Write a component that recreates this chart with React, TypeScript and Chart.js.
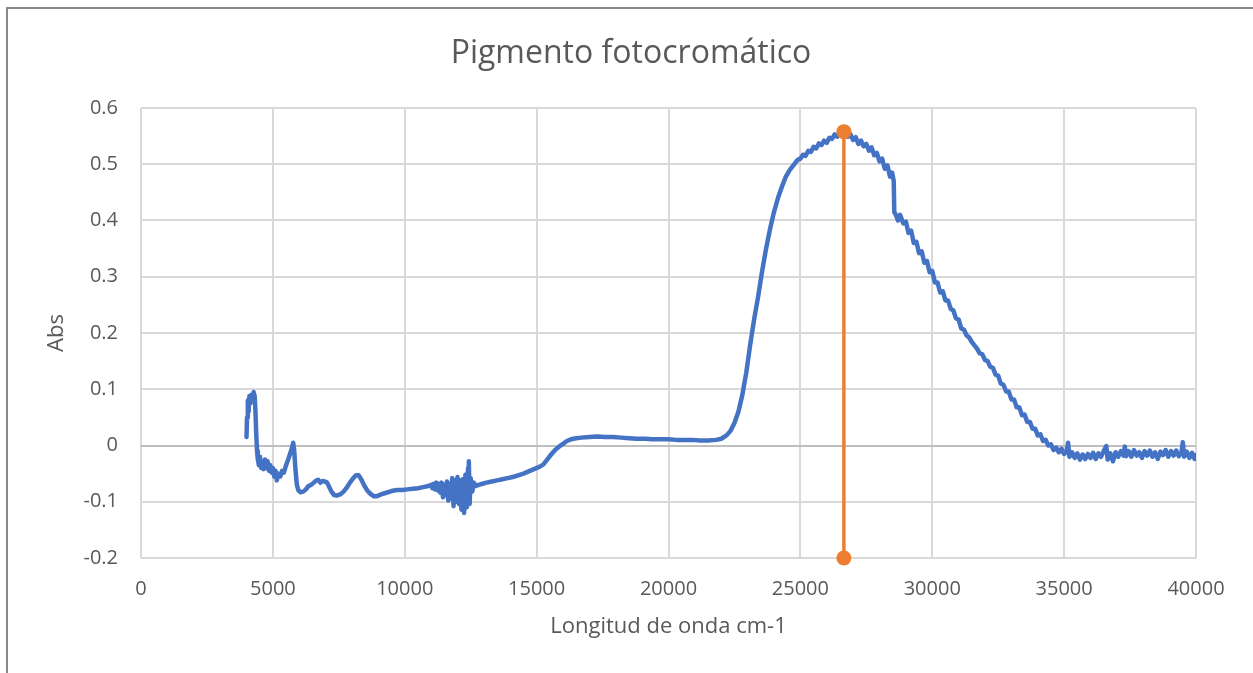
import React, { useEffect, useRef } from "react";
import { Chart, registerables } from "chart.js";

Chart.register(...registerables);

const chartTitle = "Pigmento fotocromático";
const xAxisTitle = "Longitud de onda cm-1";
const yAxisTitle = "Abs";

const xTickValues = [0, 5000, 10000, 15000, 20000, 25000, 30000, 35000, 40000];
const xTickLabels = ["0", "5000", "10000", "15000", "20000", "25000", "30000", "35000", "40000"];
const yTickValues = [-0.2, -0.1, 0, 0.1, 0.2, 0.3, 0.4, 0.5, 0.6];
const yTickLabels = ["-0.2", "-0.1", "0", "0.1", "0.2", "0.3", "0.4", "0.5", "0.6"];

// Spectrum: wavenumber (cm-1)
const wavenumber = [
  4000, 4020, 4050, 4080, 4110, 4150, 4190, 4230, 4270, 4310, 4340, 4370, 4400, 4430, 4470, 4510,
  4560, 4600, 4650, 4700, 4750, 4800, 4850, 4900, 4950, 5000, 5050, 5100, 5150, 5200, 5280, 5350,
  5420, 5500, 5580, 5650, 5720, 5770, 5810, 5860, 5910, 5970, 6050, 6150, 6250, 6350, 6450, 6550,
  6650, 6720, 6800, 6880, 6960, 7040, 7120, 7220, 7320, 7420, 7550, 7680, 7800, 7920, 8050, 8150,
  8250, 8350, 8450, 8580, 8700, 8820, 8950, 9100, 9300, 9500, 9700, 9900, 10100, 10300, 10500, 10700,
  10900, 11000, 11050, 11100, 11150, 11200, 11250, 11300, 11350, 11400, 11450, 11500, 11550, 11600, 11650, 11700,
  11750, 11800, 11850, 11900, 11950, 12000, 12050, 12100, 12150, 12200, 12250, 12300, 12350, 12400, 12430, 12460,
  12500, 12560, 12620, 12700, 12800,
  12950, 13100, 13300, 13500, 13700, 13900, 14100, 14300, 14500, 14700, 14900, 15100, 15250, 15400, 15550, 15700,
  15850, 16000, 16150, 16300, 16500, 16700, 17000, 17300, 17600, 17900, 18200, 18500, 18800, 19100, 19400, 19700,
  20000, 20300, 20600, 20900, 21200, 21500, 21800, 22000, 22200, 22350, 22500, 22650, 22800, 22950, 23100, 23250,
  23400, 23550, 23700, 23850, 24000, 24150, 24300, 24450, 24600, 24800, 24900, 25000, 25100, 25200, 25300, 25400,
  25500, 25600, 25700, 25800, 25900, 26000, 26100, 26200, 26300, 26400, 26500, 26600, 26700, 26800, 26900, 27000,
  27100, 27200, 27300, 27400, 27500, 27600, 27700, 27800, 27900, 28000, 28100, 28200, 28300, 28400, 28480, 28540,
  28560, 28620, 28700, 28780, 28900, 29000, 29100, 29200, 29300, 29400, 29500, 29600, 29700, 29800, 29900, 30000,
  30100, 30200, 30300, 30400, 30500, 30600, 30700, 30800, 30900, 31000, 31100, 31200, 31300, 31400, 31500, 31600,
  31700, 31800, 31900, 32000, 32100, 32200, 32300, 32400, 32500, 32600, 32700, 32800, 32900, 33000, 33100, 33200,
  33300, 33400, 33500, 33600, 33700, 33800, 33900, 34000, 34100, 34200, 34300, 34400, 34500, 34600, 34700, 34800,
  34900, 35000, 35100, 35150, 35200, 35300, 35400, 35500, 35600, 35700, 35800, 35900, 36000, 36100, 36200, 36300,
  36400, 36500, 36600, 36650, 36750, 36850, 36950, 37050, 37150, 37250, 37300, 37350, 37450, 37550, 37650, 37750,
  37850, 37950, 38050, 38150, 38250, 38350, 38450, 38550, 38650, 38750, 38850, 38950, 39050, 39150, 39250, 39350,
  39450, 39500, 39550, 39650, 39750, 39850, 39950, 40000,
];

// Spectrum: absorbance
const absorbance = [
  0.015, 0.05, 0.08, 0.06, 0.088, 0.075, 0.09, 0.082, 0.095, 0.088, 0.06, 0.02, -0.01, -0.025, -0.035, -0.02,
  -0.04, -0.03, -0.042, -0.025, -0.04, -0.028, -0.045, -0.035, -0.048, -0.04, -0.055, -0.045, -0.062, -0.05, -0.055, -0.045,
  -0.048, -0.035, -0.025, -0.015, -0.005, 0.005, -0.01, -0.045, -0.07, -0.08, -0.083, -0.082, -0.078, -0.072, -0.07, -0.066,
  -0.062, -0.061, -0.066, -0.063, -0.064, -0.065, -0.072, -0.082, -0.088, -0.089, -0.087, -0.082, -0.075, -0.066, -0.058, -0.053,
  -0.053, -0.06, -0.07, -0.08, -0.086, -0.09, -0.09, -0.087, -0.084, -0.081, -0.079, -0.079, -0.078, -0.077, -0.076, -0.074,
  -0.072, -0.07, -0.076, -0.068, -0.078, -0.066, -0.08, -0.068, -0.084, -0.066, -0.092, -0.07, -0.088, -0.064, -0.098, -0.068,
  -0.094, -0.058, -0.108, -0.062, -0.1, -0.056, -0.104, -0.062, -0.114, -0.06, -0.12, -0.052, -0.11, -0.04, -0.028, -0.104,
  -0.058, -0.082, -0.066, -0.072, -0.07,
  -0.068, -0.066, -0.064, -0.062, -0.06, -0.058, -0.056, -0.053, -0.05, -0.046, -0.042, -0.038, -0.034, -0.025, -0.016, -0.008,
  -0.002, 0.003, 0.008, 0.011, 0.013, 0.014, 0.015, 0.016, 0.015, 0.015, 0.014, 0.013, 0.012, 0.012, 0.011, 0.011,
  0.011, 0.01, 0.01, 0.01, 0.009, 0.009, 0.01, 0.012, 0.018, 0.026, 0.04, 0.06, 0.09, 0.13, 0.18, 0.225,
  0.265, 0.31, 0.35, 0.385, 0.415, 0.44, 0.46, 0.478, 0.49, 0.502, 0.508, 0.51, 0.517, 0.515, 0.524, 0.522,
  0.531, 0.528, 0.537, 0.534, 0.542, 0.538, 0.547, 0.545, 0.553, 0.549, 0.557, 0.553, 0.558, 0.549, 0.553, 0.543,
  0.548, 0.536, 0.542, 0.532, 0.536, 0.524, 0.53, 0.516, 0.52, 0.505, 0.51, 0.492, 0.498, 0.478, 0.485, 0.47,
  0.415, 0.41, 0.4, 0.41, 0.395, 0.398, 0.378, 0.382, 0.36, 0.362, 0.342, 0.345, 0.325, 0.328, 0.308, 0.31,
  0.29, 0.29, 0.272, 0.274, 0.258, 0.258, 0.243, 0.24, 0.226, 0.224, 0.208, 0.206, 0.196, 0.192, 0.184, 0.178,
  0.172, 0.164, 0.162, 0.152, 0.15, 0.14, 0.138, 0.126, 0.124, 0.11, 0.108, 0.096, 0.096, 0.082, 0.082, 0.068,
  0.068, 0.054, 0.055, 0.042, 0.042, 0.03, 0.03, 0.018, 0.02, 0.008, 0.01, 0.0, 0.002, -0.008, -0.004, -0.012,
  -0.006, -0.015, -0.01, 0.005, -0.02, -0.012, -0.022, -0.014, -0.025, -0.016, -0.024, -0.015, -0.022, -0.013, -0.024, -0.014,
  -0.02, -0.01, -0.001, -0.025, -0.014, -0.028, -0.012, -0.02, -0.01, -0.018, -0.002, -0.019, -0.01, -0.02, -0.008, -0.018,
  -0.012, -0.022, -0.01, -0.018, -0.009, -0.02, -0.012, -0.024, -0.011, -0.017, -0.008, -0.02, -0.01, -0.018, -0.009, -0.019,
  -0.012, 0.006, -0.02, -0.011, -0.022, -0.013, -0.024, -0.017,
];

// Peak marker (vertical drop line)
const peakX = [26650, 26650];
const peakY = [-0.2, 0.558];

const blue = "#4472C4";
const orange = "#ED7D31";
const textColor = "#595959";
const gridColor = "#d9d9d9";
const font = "'Open Sans', 'DejaVu Sans', sans-serif";

export default function App() {
  const canvasRef = useRef<HTMLCanvasElement | null>(null);

  useEffect(() => {
    const canvas = canvasRef.current;
    if (!canvas) return;
    const spectrum = wavenumber.map((x, i) => ({ x, y: absorbance[i] }));
    const peak = peakX.map((x, i) => ({ x, y: peakY[i] }));

    const chart = new Chart(canvas, {
      type: "line",
      data: {
        datasets: [
          {
            label: "Pico",
            data: peak,
            borderColor: orange,
            backgroundColor: orange,
            borderWidth: 3.5,
            pointRadius: 7.5,
            pointBackgroundColor: orange,
            pointBorderColor: orange,
            pointBorderWidth: 0,
            clip: false,
            xAxisID: "x",
            yAxisID: "y",
          },
          {
            label: "Abs",
            data: spectrum,
            borderColor: blue,
            backgroundColor: blue,
            borderWidth: 4.5,
            pointRadius: 0,
            tension: 0,
            borderJoinStyle: "round",
            borderCapStyle: "round",
            xAxisID: "x",
            yAxisID: "y",
          },
        ],
      },
      options: {
        responsive: false,
        animation: false,
        events: [],
        layout: { padding: { left: 9, right: 0, top: 0, bottom: 0 } },
        plugins: {
          legend: { display: false },
          tooltip: { enabled: false },
          title: {
            display: true,
            text: chartTitle,
            color: textColor,
            font: { family: font, size: 32, weight: "normal" },
            padding: { top: 35, bottom: 34.6 },
          },
        },
        scales: {
          x: {
            type: "linear",
            position: "bottom",
            min: 0,
            max: 40000,
            afterBuildTicks: (s: any) => {
              s.ticks = xTickValues.map((v) => ({ value: v }));
            },
            afterFit: (s: any) => {
              s.height = 115;
            },
            ticks: {
              color: textColor,
              font: { family: font, size: 20 },
              padding: 19,
              maxRotation: 0,
              autoSkip: false,
              callback: (v: any) => {
                const i = xTickValues.indexOf(Number(v));
                return i >= 0 ? xTickLabels[i] : "";
              },
            },
            grid: { color: gridColor, lineWidth: 2, drawTicks: false },
            border: { display: false },
            title: {
              display: true,
              text: xAxisTitle,
              color: textColor,
              font: { family: font, size: 22 },
              padding: { top: 0, bottom: 33 },
            },
          },
          y: {
            type: "linear",
            position: "left",
            min: -0.2,
            max: 0.6,
            afterBuildTicks: (s: any) => {
              s.ticks = yTickValues.map((v) => ({ value: v }));
            },
            afterFit: (s: any) => {
              s.width = 132;
            },
            ticks: {
              color: textColor,
              font: { family: font, size: 20 },
              padding: 23,
              callback: (v: any) => {
                const i = yTickValues.findIndex((t) => Math.abs(t - Number(v)) < 1e-9);
                return i >= 0 ? yTickLabels[i] : "";
              },
            },
            grid: {
              color: (ctx: any) => (ctx.tick && Math.abs(ctx.tick.value) < 1e-9 ? "#bfbfbf" : gridColor),
              lineWidth: 2,
              drawTicks: false,
            },
            border: { display: false },
            title: {
              display: true,
              text: yAxisTitle,
              color: textColor,
              font: { family: font, size: 22 },
              padding: { top: 35, bottom: 0 },
            },
          },
          yRight: {
            type: "linear",
            position: "right",
            display: true,
            grid: { display: false, drawOnChartArea: false },
            ticks: { display: false },
            border: { display: false },
            afterFit: (s: any) => {
              s.width = 57;
            },
          },
        },
      },
    });
    return () => chart.destroy();
  }, []);

  return (
    <div style={{ position: "absolute", left: 0, top: 0, width: 1253, height: 673, background: "#fff", overflow: "hidden" }}>
      <div
        style={{
          position: "absolute",
          left: 6,
          top: 7,
          width: 1247,
          height: 666,
          boxSizing: "border-box",
          borderLeft: "2px solid #898989",
          borderTop: "2px solid #898989",
        }}
      />
      <canvas ref={canvasRef} width={1253} height={673} style={{ position: "absolute", left: 0, top: 0 }} />
    </div>
  );
}
